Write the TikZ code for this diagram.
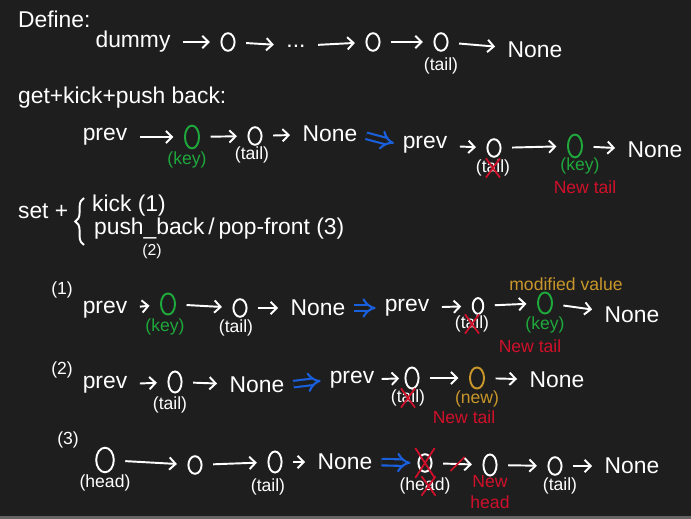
\documentclass[tikz,border=0pt]{standalone}
\usepackage{fontspec}
\setmainfont{Liberation Sans}
\usetikzlibrary{arrows.meta,shapes.geometric,shapes.misc,decorations.pathreplacing}
\definecolor{bg}{HTML}{1E1E1E}
\definecolor{grn}{HTML}{1FA83C}
\definecolor{blu}{HTML}{1A5FDC}
\definecolor{rd}{HTML}{D0102A}
\definecolor{gld}{HTML}{C8962A}
\begin{document}
\begin{tikzpicture}[x=0.02cm,y=-0.02cm,
  every node/.style={text=white,font=\fontsize{13}{15}\selectfont,inner sep=1pt},
  nd/.style={ellipse,draw=white,line width=1.1pt,minimum width=7.5pt,minimum height=10pt,inner sep=0pt},
  lbl/.style={font=\fontsize{10}{12}\selectfont},
  note/.style={font=\fontsize{10}{12}\selectfont,text=rd},
  xmark/.style={cross out,draw=rd,line width=1pt,minimum width=7pt,minimum height=10pt,inner sep=0pt},
  nx/.style={draw=white,line width=1.1pt,-{Straight Barb[length=3.5pt,width=7pt]},shorten >=6pt,shorten <=6pt},
  imp/.style={draw=blu,line width=1.2pt,double=bg,double distance=2.5pt,-{Implies},shorten >=4pt,shorten <=4pt}]
  \useasboundingbox (0,0) rectangle (691,519);
  \fill[bg] (0,0) rectangle (691,519);
  \fill[black!60!white] (0,516) rectangle (691,519);

  % definition
  \node[anchor=west] (def) at (16,19) {Define:};
  \node (dm) at (133,42) {dummy};
  \node[nd] (d1) at (228,42) {};
  \node (dots) at (296,46) {...};
  \node[nd] (d2) at (373,42) {};
  \node[nd] (d3) at (441,42) {};
  \node[lbl] (d3t) at (441,66) {(tail)};
  \node (dn) at (535,50) {None};
  \draw[nx] (dm) -- (d1); \draw[nx] (d1) -- (dots); \draw[nx] (dots) -- (d2);
  \draw[nx] (d2) -- (d3); \draw[nx] (d3) -- (dn);

  % get
  \node[anchor=west] (get) at (16,98) {get+kick+push back:};
  \node (p1) at (105,137) {prev};
  \node[nd,draw=grn,minimum width=8pt,minimum height=13pt] (a1) at (192,137) {};
  \node[lbl,text=grn] (a1k) at (187,160) {(key)};
  \node[nd] (b1) at (255,136) {};
  \node[lbl] (b1t) at (252,155) {(tail)};
  \node (n1) at (330,134) {None};
  \node (p2) at (425,145) {prev};
  \node[nd] (c1) at (494,148) {};
  \node[lbl] (c1t) at (493,168) {(tail)};
  \node[xmark] at (c1t.center) {};
  \node[nd,draw=grn,minimum width=8pt,minimum height=13pt] (c2) at (575,146) {};
  \node[lbl,text=grn] (c2k) at (580,166) {(key)};
  \node[note] (c2n) at (585,187) {New tail};
  \node (n2) at (655,150) {None};
  \draw[nx] (p1) -- (a1); \draw[nx] (a1) -- (b1); \draw[nx] (b1) -- (n1);
  \draw[imp] (n1.east) -- (p2.west);
  \draw[nx] (p2) -- (c1); \draw[nx] (c1) -- (c2); \draw[nx] (c2) -- (n2);

  % set
  \node[anchor=west] (set) at (16,211) {set +};
  \draw[white,line width=1.1pt,decorate,decoration={brace,amplitude=5pt}] (84,245) -- (84,198);
  \node[anchor=west] (kick) at (90,206) {kick (1)};
  \node[anchor=west] (push) at (92,229) {push\_back\,/\,pop-front (3)};
  \node[lbl,font=\fontsize{9}{10}\selectfont] (two) at (152,251) {(2)};

  % (1)
  \node[lbl] (s1) at (62,290) {(1)};
  \node (p3) at (105,310) {prev};
  \node[nd,draw=grn,minimum width=8pt,minimum height=12pt] (e1) at (168,304) {};
  \node[lbl,text=grn] (e1k) at (165,327) {(key)};
  \node[nd] (e2) at (240,308) {};
  \node[lbl] (e2t) at (236,328) {(tail)};
  \node (n3) at (318,308) {None};
  \node (p4) at (407,308) {prev};
  \node[nd,minimum width=6pt,minimum height=9pt] (f1) at (478,306) {};
  \node[lbl] (f1t) at (472,324) {(tail)};
  \node[xmark] at (f1t.center) {};
  \node[nd,draw=grn,minimum width=8pt,minimum height=12pt] (f2) at (545,303) {};
  \node[lbl,text=grn] (f2k) at (545,325) {(key)};
  \node[note] (f2n) at (530,346) {New tail};
  \node[lbl,text=gld] (f2m) at (566,284) {modified value};
  \node (n4) at (632,315) {None};
  \draw[nx] (p3) -- (e1); \draw[nx] (e1) -- (e2); \draw[nx] (e2) -- (n3);
  \draw[imp] (n3.east) -- (p4.west);
  \draw[nx] (p4) -- (f1); \draw[nx] (f1) -- (f2); \draw[nx] (f2) -- (n4);

  % (2)
  \node[lbl] (s2) at (62,370) {(2)};
  \node (p5) at (105,385) {prev};
  \node[nd,minimum height=12pt] (g1) at (175,382) {};
  \node[lbl] (g1t) at (170,405) {(tail)};
  \node (n5) at (257,385) {None};
  \node (p6) at (352,380) {prev};
  \node[nd,minimum height=12pt] (h1) at (412,378) {};
  \node[lbl] (h1t) at (408,398) {(tail)};
  \node[xmark] at (h1t.center) {};
  \node[nd,draw=gld,minimum width=8pt,minimum height=12pt] (h2) at (477,378) {};
  \node[lbl,text=gld] (h2w) at (477,399) {(new)};
  \node[note] (h2n) at (464,417) {New tail};
  \node (n6) at (557,380) {None};
  \draw[nx] (p5) -- (g1); \draw[nx] (g1) -- (n5);
  \draw[imp] (n5.east) -- (p6.west);
  \draw[nx,shorten <=3pt,shorten >=3pt] (p6) -- (h1); \draw[nx] (h1) -- (h2); \draw[nx] (h2) -- (n6);

  % (3)
  \node[lbl] (s3) at (68,440) {(3)};
  \node[nd,minimum width=10pt,minimum height=14pt] (k1) at (105,460) {};
  \node[lbl] (k1h) at (105,483) {(head)};
  \node[nd] (k2) at (195,465) {};
  \node[nd,minimum height=12pt] (k3) at (275,462) {};
  \node[lbl] (k3t) at (268,487) {(tail)};
  \node (n7) at (345,462) {None};
  \node[nd] (m1) at (425,463) {};
  \node[xmark,minimum width=10pt,minimum height=16pt] at (m1.center) {};
  \node[lbl] (m1h) at (425,486) {(head)};
  \node[xmark] at ([xshift=2pt]m1h.center) {};
  \node[nd,minimum height=12pt] (m2) at (490,465) {};
  \node[note,align=center] (m2n) at (490,492) {New\\head};
  \node[nd] (m3) at (555,466) {};
  \node[lbl] (m3t) at (560,486) {(tail)};
  \node (n8) at (632,466) {None};
  \draw[nx] (k1) -- (k2); \draw[nx] (k2) -- (k3); \draw[nx] (k3) -- (n7);
  \draw[imp] (n7.east) -- (m1.west);
  \draw[nx] (m1) -- (m2) node[xmark,midway,minimum width=7pt,minimum height=7pt] {};
  \draw[nx] (m2) -- (m3); \draw[nx] (m3) -- (n8);
\end{tikzpicture}
\end{document}
